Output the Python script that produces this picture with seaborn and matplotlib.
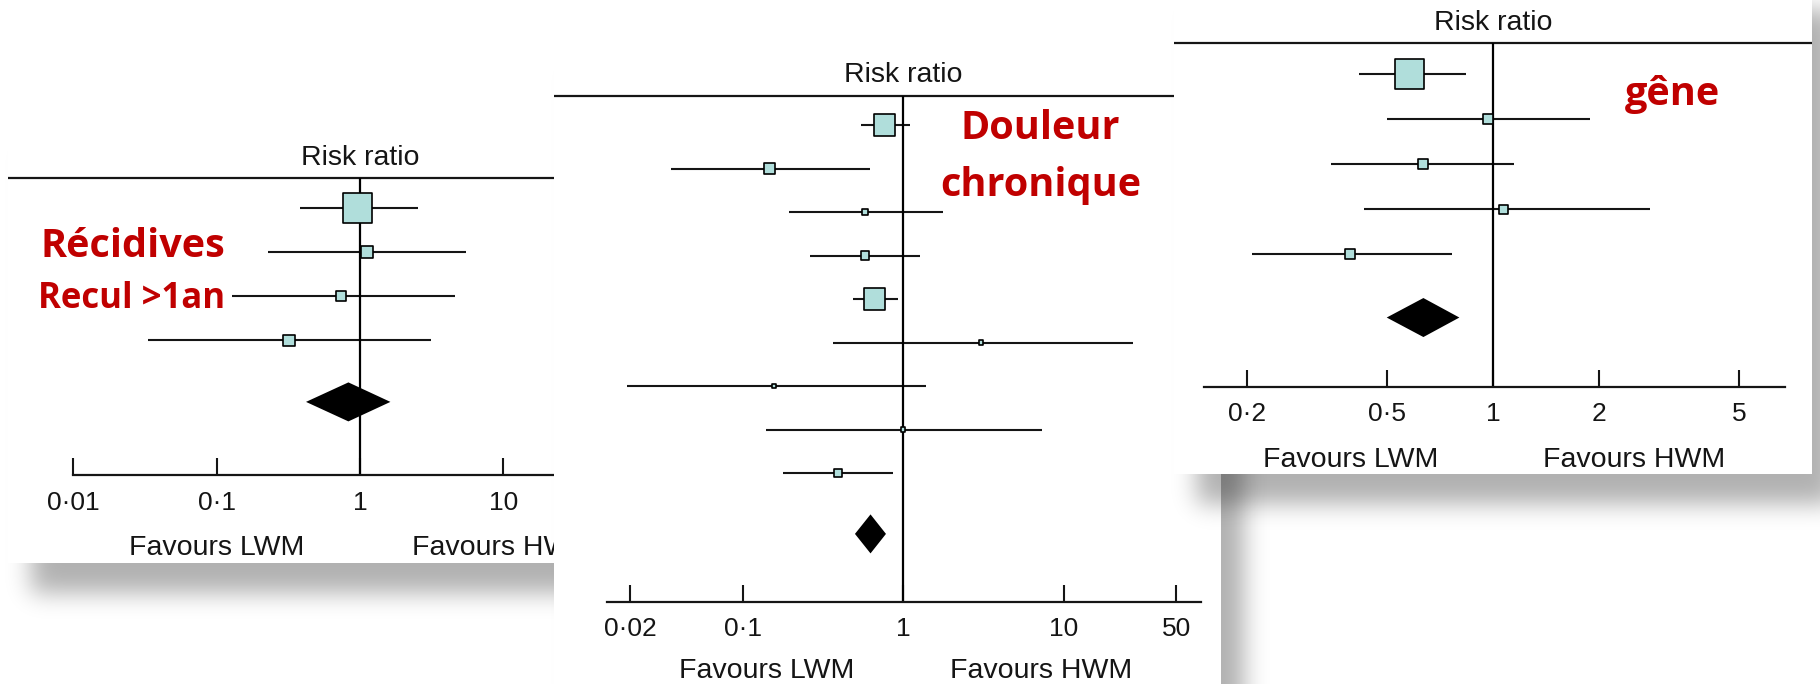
import numpy as np
import matplotlib
matplotlib.use("Agg")
import matplotlib.pyplot as plt
import seaborn as sns

# Récidives (recul > 1 an): risk ratio, 95% CI, weight (%)
rec_rr = [0.96, 1.12, 0.74, 0.32]
rec_low = [0.38, 0.227, 0.127, 0.033]
rec_high = [2.52, 5.45, 4.6, 3.12]
rec_weight = [69.7, 11.9, 8.3, 10.0]
rec_pooled = [0.83, 0.42, 1.63]
rec_ticks = [0.01, 0.1, 1, 10, 100]
rec_ticklabels = ["0·01", "0·1", "1", "10", "100"]

# Douleur chronique
pain_rr = [0.767, 0.147, 0.578, 0.578, 0.663, 3.05, 0.157, 1.0, 0.393]
pain_low = [0.544, 0.036, 0.195, 0.264, 0.485, 0.367, 0.019, 0.14, 0.179]
pain_high = [1.108, 0.617, 1.775, 1.265, 0.93, 26.8, 1.377, 7.28, 0.86]
pain_weight = [36.0, 9.0, 3.2, 5.8, 36.0, 1.4, 1.4, 1.4, 5.8]
pain_pooled = [0.625, 0.50, 0.78]
pain_ticks = [0.02, 0.1, 1, 10, 50]
pain_ticklabels = ["0·02", "0·1", "1", "10", "50"]

# Gêne
gene_rr = [0.578, 0.968, 0.633, 1.068, 0.392]
gene_low = [0.415, 0.499, 0.346, 0.428, 0.206]
gene_high = [0.836, 1.88, 1.147, 2.78, 0.762]
gene_weight = [69.3, 8.2, 8.2, 6.0, 8.2]
gene_pooled = [0.633, 0.498, 0.801]
gene_ticks = [0.2, 0.5, 1, 2, 5]
gene_ticklabels = ["0·2", "0·5", "1", "2", "5"]

W, H = 1820, 684
TEAL = "#b0dedb"
INK = "#151515"
RED = "#c00000"

sns.set_theme(style="white")
plt.rcParams["font.family"] = ["Liberation Sans", "DejaVu Sans"]

fig = plt.figure(figsize=(W / 100, H / 100), dpi=100)


def shadow_image(rect, dx=23, dy=30, sigma=12, alpha=0.31):
    pad = 90
    left, top, right, bottom = rect
    m = np.zeros((H + 2 * pad, W + 2 * pad))
    r0 = int(np.clip(top + dy + pad, 0, H + 2 * pad))
    r1 = int(np.clip(bottom + dy + pad, 0, H + 2 * pad))
    c0 = int(np.clip(left + dx + pad, 0, W + 2 * pad))
    c1 = int(np.clip(right + dx + pad, 0, W + 2 * pad))
    m[r0:r1, c0:c1] = 1.0
    k = np.exp(-0.5 * (np.arange(-3 * sigma, 3 * sigma + 1) / sigma) ** 2)
    k /= k.sum()
    m = np.apply_along_axis(lambda r: np.convolve(r, k, mode="same"), 1, m)
    m = np.apply_along_axis(lambda c: np.convolve(c, k, mode="same"), 0, m)
    img = np.zeros((H, W, 4))
    img[..., 3] = m[pad:pad + H, pad:pad + W] * alpha
    return img


def draw_panel(z, lay, rr, low, high, weight, pooled, ticks, ticklabels, fav):
    left, top, right, bottom = lay["rect"]

    # drop shadow
    sa = fig.add_axes([0, 0, 1, 1], zorder=z)
    sa.imshow(shadow_image(lay["rect"]), extent=(0, W, H, 0), aspect="auto")
    sa.set_xlim(0, W)
    sa.set_ylim(H, 0)
    sa.axis("off")

    ax = fig.add_axes([left / W, 1 - bottom / H, (right - left) / W, (bottom - top) / H],
                      zorder=z + 1)
    ax.set_facecolor("white")

    one, dec = lay["one_px"], lay["decade_px"]
    y0, step = lay["row0_px"], lay["row_px"]

    def to_y(px):
        return (px - y0) / step

    n = len(rr)
    rows = np.arange(n)
    lx = np.log10(rr)

    ax.hlines(rows, np.log10(low), np.log10(high), color=INK, lw=1.5, zorder=2)
    side_pt = 3.55 * np.sqrt(weight) * 0.72
    sns.scatterplot(x=lx, y=rows, marker="s", s=side_pt ** 2, color=TEAL,
                    edgecolor="black", linewidth=1.2, legend=False, ax=ax, zorder=3)

    # pooled estimate
    yd = n - 1 + 1.4
    hh = 19.5 / step
    pe, pl, ph = np.log10(pooled)
    ax.fill([pl, pe, ph, pe], [yd, yd - hh, yd, yd + hh], color="black", lw=0, zorder=3)

    y_top = to_y(lay["line_px"])
    y_axis = to_y(lay["axis_px"])
    ax.axhline(y_top, color=INK, lw=1.6)
    ax.vlines(0, y_top, y_axis, color="black", lw=1.6, zorder=2)

    ax.set_xlim((left - one) / dec, (right - one) / dec)
    ax.set_ylim(to_y(bottom), to_y(top))

    for s in ["left", "right", "top"]:
        ax.spines[s].set_visible(False)
    sp = ax.spines["bottom"]
    sp.set_visible(True)
    sp.set_color(INK)
    sp.set_linewidth(1.6)
    sp.set_position(("data", y_axis))
    sp.set_bounds(*np.log10(lay["axis_span"]))
    ax.set_xticks(np.log10(ticks))
    ax.set_xticklabels(ticklabels)
    ax.set_yticks([])
    ax.tick_params(axis="x", bottom=True, direction="in", length=12, width=1.5,
                   pad=11.2, labelsize=19, colors=INK)
    ax.set_xlabel("")
    ax.set_ylabel("")

    ax.text(0, to_y(lay["line_px"] - 13.5), "Risk ratio", ha="center", va="baseline",
            fontsize=20.5, color=INK)
    fy = to_y(lay["axis_px"] + lay["fav_off"])
    ax.text(np.log10(fav[0]), fy, "Favours LWM", ha="center", va="baseline",
            fontsize=20.5, color=INK)
    ax.text(np.log10(fav[1]), fy, "Favours HWM", ha="center", va="baseline",
            fontsize=20.5, color=INK)


lay1 = dict(rect=(8, 120, 690, 563), one_px=360, decade_px=143.3, row0_px=208.3,
            row_px=44.0, line_px=178.3, axis_px=475, axis_span=(0.01, 100), fav_off=80)
lay2 = dict(rect=(554, 40, 1221, 720), one_px=903.3, decade_px=160.6, row0_px=125,
            row_px=43.5, line_px=95.7, axis_px=601.7, axis_span=(0.0142, 71.9), fav_off=76)
lay3 = dict(rect=(1174, -20, 1812, 474), one_px=1493.3, decade_px=352, row0_px=74,
            row_px=45.1, line_px=43.3, axis_px=386.7, axis_span=(0.151, 6.75), fav_off=80.6)

draw_panel(0, lay1, rec_rr, rec_low, rec_high, rec_weight, rec_pooled,
           rec_ticks, rec_ticklabels, (0.1, 10))
draw_panel(2, lay2, pain_rr, pain_low, pain_high, pain_weight, pain_pooled,
           pain_ticks, pain_ticklabels, (0.142, 7.2))
draw_panel(4, lay3, gene_rr, gene_low, gene_high, gene_weight, gene_pooled,
           gene_ticks, gene_ticklabels, (0.394, 2.52))

# slide annotations
red = dict(color=RED, fontweight="bold", va="baseline",
           family=["Open Sans", "DejaVu Sans"], zorder=20)
fig.text(40 / W, 1 - 256.7 / H, "Récidives", fontsize=28.5, **red)
fig.text(38 / W, 1 - 307.7 / H, "Recul >1an", fontsize=25, **red)
fig.text(961 / W, 1 - 139.3 / H, "Douleur", fontsize=28.5, **red)
fig.text(940 / W, 1 - 196 / H, "chronique", fontsize=28.5, **red)
fig.text(1625 / W, 1 - 105 / H, "gêne", fontsize=28.5, **red)

fig.savefig("out.png", dpi=100, facecolor="white")
